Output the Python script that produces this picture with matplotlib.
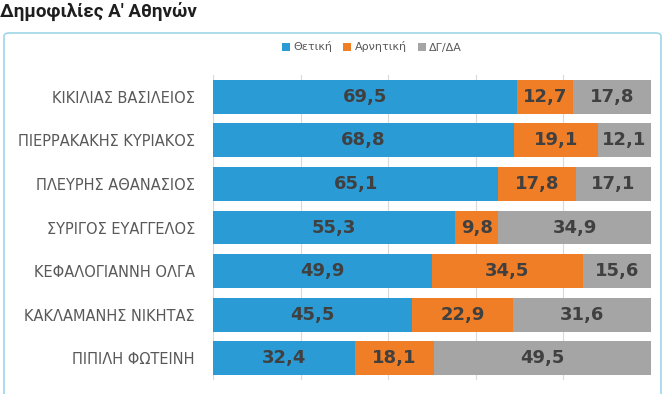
import matplotlib
matplotlib.use("Agg")
import matplotlib.pyplot as plt
from matplotlib.patches import FancyBboxPatch, Patch

names = ["ΚΙΚΙΛΙΑΣ ΒΑΣΙΛΕΙΟΣ", "ΠΙΕΡΡΑΚΑΚΗΣ ΚΥΡΙΑΚΟΣ", "ΠΛΕΥΡΗΣ ΑΘΑΝΑΣΙΟΣ",
         "ΣΥΡΙΓΟΣ ΕΥΑΓΓΕΛΟΣ", "ΚΕΦΑΛΟΓΙΑΝΝΗ ΟΛΓΑ", "ΚΑΚΛΑΜΑΝΗΣ ΝΙΚΗΤΑΣ",
         "ΠΙΠΙΛΗ ΦΩΤΕΙΝΗ"]
positive = [69.5, 68.8, 65.1, 55.3, 49.9, 45.5, 32.4]
negative = [12.7, 19.1, 17.8, 9.8, 34.5, 22.9, 18.1]
dk_na = [17.8, 12.1, 17.1, 34.9, 15.6, 31.6, 49.5]
series_names = ["Θετική", "Αρνητική", "ΔΓ/ΔΑ"]
colors = ["#2b9bd6", "#f07e27", "#a5a5a5"]

fig = plt.figure(figsize=(6.72, 3.94), dpi=100)
ax = fig.add_axes([213 / 672, 1 - 380 / 394, (651 - 213) / 672, (380 - 75) / 394])

# rounded frame around the chart
frame = FancyBboxPatch((4 / 672, -0.1), 657 / 672, 1 - 33 / 394 + 0.1,
                       boxstyle="round,pad=0,rounding_size=0.008",
                       transform=fig.transFigure, fill=False,
                       edgecolor="#9fd6ea", linewidth=1.2, zorder=0)
fig.patches.append(frame)

fig.text(0.0, 1 - 11 / 394, "Δημοφιλίες Α' Αθηνών", fontsize=13.5, fontweight="bold",
         family="Roboto", color="#1e1e1e", va="center", ha="left")

y = list(range(len(names)))
left = [0] * len(names)
for vals, col in zip([positive, negative, dk_na], colors):
    bars = ax.barh(y, vals, left=left, color=col, height=0.78, zorder=2)
    for b, v in zip(bars, vals):
        ax.text(b.get_x() + b.get_width() / 2, b.get_y() + b.get_height() / 2,
                f"{v:.1f}".replace(".", ","), ha="center", va="center",
                fontsize=13, fontweight="bold", color="#404040", zorder=3)
    left = [a + b for a, b in zip(left, vals)]

ax.set_xlim(0, 100)
ax.set_ylim(len(names) - 0.5, -0.5)
ax.set_xticks([0, 20, 40, 60, 80, 100])
ax.xaxis.grid(True, color="#d9d9d9", linewidth=0.8, zorder=0)
ax.tick_params(axis="x", length=0, labelbottom=False)
ax.tick_params(axis="y", length=0, pad=13)
ax.set_yticks(y)
ax.set_yticklabels(names, fontsize=10.5, color="#595959")
for s in ax.spines.values():
    s.set_visible(False)

handles = [Patch(facecolor=c, label=n) for c, n in zip(colors, series_names)]
fig.legend(handles=handles, loc="center", bbox_to_anchor=(372 / 672, 1 - 47 / 394),
           ncol=3, frameon=False, fontsize=8, labelcolor="#595959",
           handlelength=0.7, handleheight=0.7, handletextpad=0.3, columnspacing=1.0)

fig.savefig("out.png", dpi=100)
